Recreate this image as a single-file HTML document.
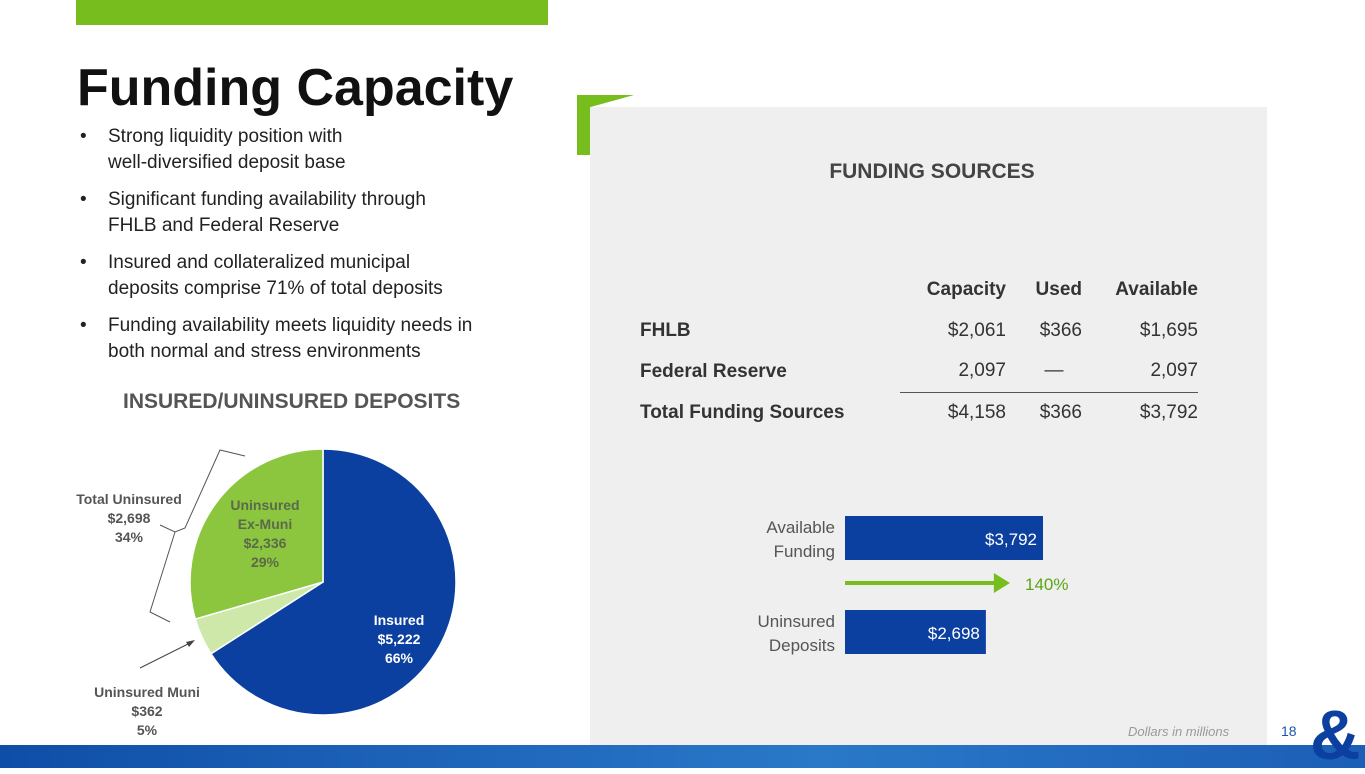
<!DOCTYPE html>
<html><head><meta charset="utf-8"><style>
*{margin:0;padding:0;box-sizing:border-box}
body{width:1365px;height:768px;position:relative;overflow:hidden;background:#fff;font-family:"Liberation Sans",sans-serif;color:#222}
.a{position:absolute}
ul{list-style:none}
li{position:relative;padding-left:30px;font-size:19px;line-height:26px;margin-bottom:11px;color:#222}
li:before{content:"•";position:absolute;left:2px}
.tbl td{font-size:19px;height:41px;color:#333}
</style></head><body>
<div class="a" style="left:76px;top:0;width:472px;height:25px;background:#76bd1d"></div>
<div class="a" style="left:77px;top:58px;font-size:52px;font-weight:bold;color:#111">Funding Capacity</div>
<ul class="a" style="left:78px;top:124px;width:460px">
<li>Strong liquidity position with<br>well-diversified deposit base</li>
<li>Significant funding availability through<br>FHLB and Federal Reserve</li>
<li>Insured and collateralized municipal<br>deposits comprise 71% of total deposits</li>
<li>Funding availability meets liquidity needs in<br>both normal and stress environments</li>
</ul>
<div class="a" style="left:123px;top:390px;font-size:21px;font-weight:bold;color:#555">INSURED/UNINSURED DEPOSITS</div>
<div class="a" style="left:577px;top:95px;width:57px;height:60px;background:#76bd1d;clip-path:polygon(0 0,100% 0,24% 20%,24% 100%,0 100%)"></div>
<div class="a" style="left:590px;top:107px;width:677px;height:638px;background:#efefef"></div>
<div class="a" style="left:590px;top:160px;width:684px;text-align:center;font-size:21px;font-weight:bold;color:#444">FUNDING SOURCES</div>
<table class="a tbl" style="left:640px;top:269px;border-collapse:collapse">
<tr><td style="width:260px"></td><td style="width:106px;text-align:right;font-weight:bold">Capacity</td><td style="width:76px;text-align:right;font-weight:bold">Used</td><td style="width:116px;text-align:right;font-weight:bold">Available</td></tr>
<tr><td style="font-weight:bold">FHLB</td><td style="text-align:right">$2,061</td><td style="text-align:right">$366</td><td style="text-align:right">$1,695</td></tr>
<tr><td style="font-weight:bold">Federal Reserve</td><td style="text-align:right;border-bottom:1px solid #555">2,097</td><td style="text-align:center;padding-left:20px;border-bottom:1px solid #555">—</td><td style="text-align:right;border-bottom:1px solid #555">2,097</td></tr>
<tr><td style="font-weight:bold">Total Funding Sources</td><td style="text-align:right">$4,158</td><td style="text-align:right">$366</td><td style="text-align:right">$3,792</td></tr>
</table>
<svg class="a" id="bars" style="left:0;top:0" width="1365" height="768"></svg>
<svg class="a" id="pie" style="left:0;top:0" width="1365" height="768"></svg>
<div class="a" style="left:1128px;top:724px;font-size:13px;font-style:italic;color:#999">Dollars in millions</div>
<div class="a" style="left:1281px;top:723px;font-size:14px;color:#1a55b0">18</div>
<div class="a" style="left:0;top:745px;width:1365px;height:23px;background:linear-gradient(90deg,#0f4ea8,#2a78c8 60%,#1b5fb6)"></div>
<div class="a" style="left:1310px;top:700px;font-size:70px;font-weight:bold;color:#0b3fa0;line-height:70px">&amp;</div>
<script>
const NS="http://www.w3.org/2000/svg";
function mk(p,t,a){const e=document.createElementNS(NS,t);for(const k in a)e.setAttribute(k,a[k]);p.appendChild(e);return e;}
// Bar chart
const barCats=["Available Funding","Uninsured Deposits"];
const barVals=[3792,2698];
const barLabels=["$3,792","$2,698"];
const ratioLabel="140%";
const bs=document.getElementById('bars');
const x0=845,scale=198/3792;
const bx=v=>v*scale;
barVals.forEach((v,i)=>{
 const y=516+i*94;
 const r=mk(bs,'rect',{x:x0,y:y,width:bx(v),height:44,fill:'#0b3fa0'});
 
 
 const t=mk(bs,'text',{x:x0+bx(v)-6,y:y+29,'text-anchor':'end','font-size':17,fill:'#fff','font-family':'Liberation Sans'});t.textContent=barLabels[i];
 
 
 const w=barCats[i].split(' ');
 w.forEach((s,j)=>{const c=mk(bs,'text',{x:835,y:y+17+j*24,'text-anchor':'end','font-size':17,fill:'#555','font-family':'Liberation Sans'});c.textContent=s;
 
 });
});
const ar=mk(bs,'line',{x1:x0,y1:583,x2:x0+bx(barVals[1])+10,y2:583,stroke:'#76bd1d','stroke-width':4});


mk(bs,'polygon',{points:`${x0+bx(barVals[1])+8},573 ${x0+bx(barVals[1])+24},583 ${x0+bx(barVals[1])+8},593`,fill:'#76bd1d'});
const rt=mk(bs,'text',{x:1025,y:590,'font-size':17,fill:'#5aa514','font-family':'Liberation Sans'});rt.textContent=ratioLabel;


// Pie
const pieCats=["Insured","Uninsured Muni","Uninsured Ex-Muni"];
const pieVals=[5222,362,2336];
const pieColors=["#0b3fa0","#cde8a8","#8cc63f"];
const ps=document.getElementById('pie');
const cx=323,cy=582,R=133;
const tot=pieVals.reduce((a,b)=>a+b,0);
let a0=0;
pieVals.forEach((v,i)=>{
 const a1=a0+v/tot*2*Math.PI;
 const p=(a)=>[cx+R*Math.sin(a),cy-R*Math.cos(a)];
 const [sx,sy]=p(a0),[ex,ey]=p(a1);
 const s=mk(ps,'path',{d:`M${cx},${cy}L${sx},${sy}A${R},${R} 0 ${a1-a0>Math.PI?1:0} 1 ${ex},${ey}Z`,fill:pieColors[i],stroke:'#fff','stroke-width':1.5});
 
 
 a0=a1;
});
function lbl(lines,x,y,col,name){lines.forEach((s,j)=>{const t=mk(ps,'text',{x:x,y:y+j*19,'text-anchor':'middle','font-size':14,'font-weight':'bold',fill:col,'font-family':'Liberation Sans'});t.textContent=s;
 
 });}
lbl(["Insured","$5,222","66%"],399,625,'#fff','insured-label');
lbl(["Uninsured","Ex-Muni","$2,336","29%"],265,510,'#5a6a4a','ex-muni-label');
lbl(["Total Uninsured","$2,698","34%"],129,504,'#555','total-uninsured-label');
lbl(["Uninsured Muni","$362","5%"],147,697,'#555','muni-label');
mk(ps,'path',{d:'M245,456 L220,450 L185,528 L175,532 L160,525 M175,532 L150,612 L170,622',fill:'none',stroke:'#555','stroke-width':1});
mk(ps,'line',{x1:140,y1:668,x2:192,y2:642,stroke:'#444','stroke-width':1});
mk(ps,'polygon',{points:'195,640 186,642 189,647',fill:'#444'});
</script>
</body></html>
